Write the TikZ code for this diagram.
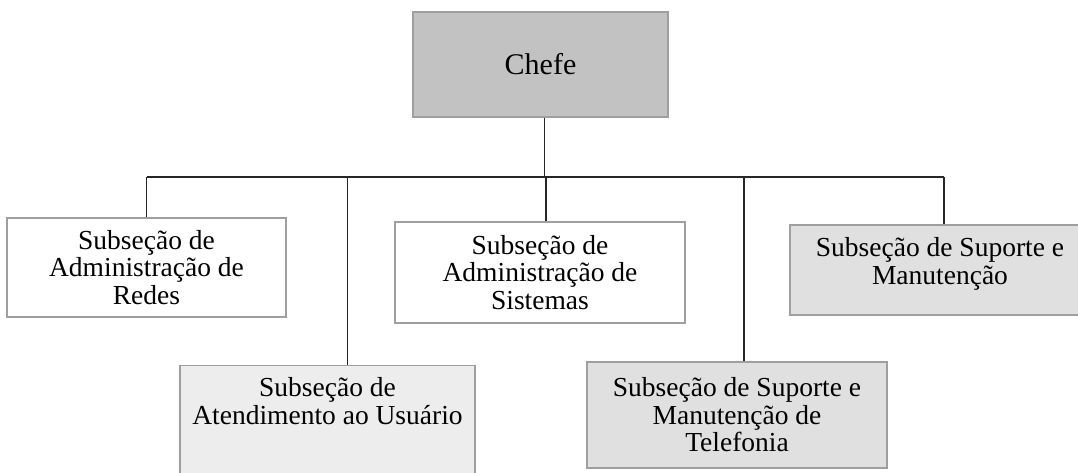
\documentclass[tikz,border=0pt]{standalone}
\usepackage{fontspec}
\setmainfont{Liberation Serif}
\usetikzlibrary{positioning}
\definecolor{chefegray}{HTML}{C2C2C2}
\definecolor{subgray}{HTML}{E0E0E0}
\definecolor{palegray}{HTML}{EDEDED}

\begin{document}
\begin{tikzpicture}[x=0.5pt, y=-0.5pt]
\tikzstyle{unit} = [rectangle, draw=gray!75, line width=0.6pt, align=center, inner sep=0pt, font=\fontsize{13.75}{13.75}\selectfont]
\tikzstyle{link} = [draw=black!85, line width=0.6pt]

\useasboundingbox (0,0) rectangle (1078,472);

\node (chefe) [unit, fill=chefegray, minimum width=127.5pt, minimum height=52.5pt, font=\fontsize{15}{15}\selectfont] at (540.5,64.5) {Chefe};

% Subsection boxes
\node (redes) [unit, fill=white, minimum width=139.5pt, minimum height=49.5pt] at (146.5,267.5) {Subseção de\\Administração de\\Redes};
\node (sistemas) [unit, fill=white, minimum width=145pt, minimum height=50.5pt] at (540,272.5) {Subseção de\\Administração de\\Sistemas};
\node (suporte) [unit, fill=subgray, minimum width=150pt, minimum height=45pt, text depth=9pt] at (940,270) {Subseção de Suporte e\\Manutenção};
\node (atend) [unit, fill=palegray, minimum width=147.5pt, anchor=north, inner ysep=6pt, text depth=50pt] at (327.5,365) {Subseção de\\Atendimento ao Usuário};
\node (telef) [unit, fill=subgray, minimum width=150pt, minimum height=53pt] at (737,415) {Subseção de Suporte e\\Manutenção de\\Telefonia};

% Connectors
\coordinate (bus) at (545,177);
\draw [link] ([xshift=2pt]chefe.south) -- ([xshift=2pt]chefe.south |- bus);
\draw [link] (redes.north |- bus) -- ([xshift=2pt]suporte.north |- bus);
\foreach \n/\dx in {redes/0, atend/10, sistemas/3, telef/3.5, suporte/2}
  \draw [link] ([xshift=\dx pt]\n.north) -- ([xshift=\dx pt]\n.north |- bus);

\end{tikzpicture}
\end{document}
